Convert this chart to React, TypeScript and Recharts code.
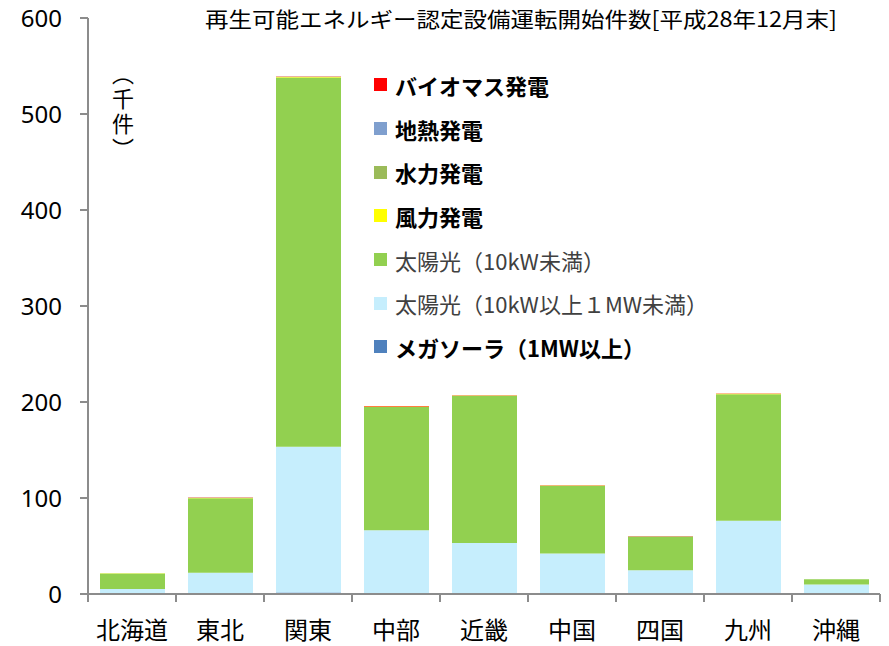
import React from "react";
import { Bar, BarChart, XAxis, YAxis } from "recharts";

const categories = ["北海道", "東北", "関東", "中部", "近畿", "中国", "四国", "九州", "沖縄"];
const megaSolar = [0.3, 0.6, 1.5, 0.9, 0.5, 0.7, 0.3, 1.2, 0.1];
const solarMid = [5, 21.5, 152, 65.5, 52.5, 41.5, 24.5, 75, 9.9];
const solarSmall = [16, 77.7, 384.5, 128.5, 153.5, 70.5, 35, 132, 5.3];
const wind = [0.2, 0.3, 0.5, 0.3, 0.2, 0.2, 0.1, 0.3, 0.05];
const hydro = [0.1, 0.1, 0.2, 0.2, 0.1, 0.1, 0.05, 0.1, 0];
const geothermal = [0.01, 0.03, 0.01, 0.02, 0, 0, 0, 0.05, 0];
const biomass = [0.1, 0.2, 0.3, 0.3, 0.2, 0.2, 0.1, 0.2, 0.05];
const yTicks = [0, 100, 200, 300, 400, 500, 600];
const unitChars = ["︵", "千", "件", "︶"];

const data = categories.map((name, i) => ({
	name,
	megaSolar: megaSolar[i],
	solarMid: solarMid[i],
	solarSmall: solarSmall[i],
	wind: wind[i],
	hydro: hydro[i],
	geothermal: geothermal[i],
	biomass: biomass[i],
}));

// bottom to top
const series = [
	{ key: "megaSolar", label: "メガソーラ（1MW以上）", color: "#4F81BD", bold: true },
	{ key: "solarMid", label: "太陽光（10kW以上１MW未満）", color: "#C6EEFD", bold: false },
	{ key: "solarSmall", label: "太陽光（10kW未満）", color: "#92D050", bold: false },
	{ key: "wind", label: "風力発電", color: "#FFFF00", bold: true },
	{ key: "hydro", label: "水力発電", color: "#9BBB59", bold: true },
	{ key: "geothermal", label: "地熱発電", color: "#7F9FCE", bold: true },
	{ key: "biomass", label: "バイオマス発電", color: "#FF0000", bold: true },
];

const jp = '"Noto Sans CJK JP", "Noto Sans", sans-serif';
const axisColor = "#8C8C8C";

const XTick = (props: any) => {
	const { x, y, payload, index } = props;
	const half = payload?.offset || 44;
	return (
		<g>
			<line x1={x - half} y1={y} x2={x - half} y2={y + 8} stroke={axisColor} strokeWidth={2} />
			{index === categories.length - 1 && (
				<line x1={x + half} y1={y} x2={x + half} y2={y + 8} stroke={axisColor} strokeWidth={2} />
			)}
			<text x={x} y={y + 34} textAnchor="middle" dominantBaseline="central" fontSize={24} fontFamily={jp} fill="#000">
				{payload.value}
			</text>
		</g>
	);
};

const LegendBox = () => (
	<div style={{ position: "absolute", left: 374, top: 63, fontFamily: jp }}>
		{[...series].reverse().map((s) => (
			<div key={s.key} style={{ display: "flex", alignItems: "center", height: 43.7 }}>
				<span style={{ width: 13, height: 13, background: s.color, display: "inline-block", marginRight: 8 }} />
				<span style={{ fontSize: 22, fontWeight: s.bold ? 700 : 400, color: s.bold ? "#000" : "#404040", whiteSpace: "nowrap" }}>
					{s.label}
				</span>
			</div>
		))}
	</div>
);

const App = () => {
	return (
		<div style={{ position: "absolute", left: 0, top: 0, width: 889, height: 646, background: "#fff" }}>
			<BarChart width={889} height={646} data={data} margin={{ top: 18, right: 9, bottom: 0, left: 0 }} barSize={65}>
				<XAxis
					dataKey="name"
					height={52}
					tickLine={false}
					tickSize={0}
					tickMargin={0}
					tick={<XTick />}
					axisLine={{ stroke: axisColor, strokeWidth: 2 }}
					interval={0}
				/>
				<YAxis
					width={88}
					domain={[0, 600]}
					ticks={yTicks}
					tickSize={8}
					tickMargin={18}
					tick={{ fontSize: 24, fill: "#000", fontFamily: '"Noto Sans", sans-serif' }}
					tickLine={{ stroke: axisColor, strokeWidth: 2 }}
					axisLine={{ stroke: axisColor, strokeWidth: 2 }}
				/>
				{series.map((s) => (
					<Bar key={s.key} dataKey={s.key} stackId="a" fill={s.color} isAnimationActive={false} />
				))}
			</BarChart>
			<LegendBox />
			<svg width={889} height={646} style={{ position: "absolute", left: 0, top: 0, pointerEvents: "none" }}>
				<text x={205} y={18} dominantBaseline="central" fontSize={21} fontFamily={jp} textLength={632} lengthAdjust="spacingAndGlyphs" fill="#000">
					再生可能エネルギー認定設備運転開始件数[平成28年12月末]
				</text>
				<text textAnchor="middle" dominantBaseline="central" fontSize={22} fontFamily={jp} fill="#000">
					{unitChars.map((c, i) => (
						<tspan key={i} x={123} y={72 + i * 25}>
							{c}
						</tspan>
					))}
				</text>
			</svg>
		</div>
	);
};

export default App;
